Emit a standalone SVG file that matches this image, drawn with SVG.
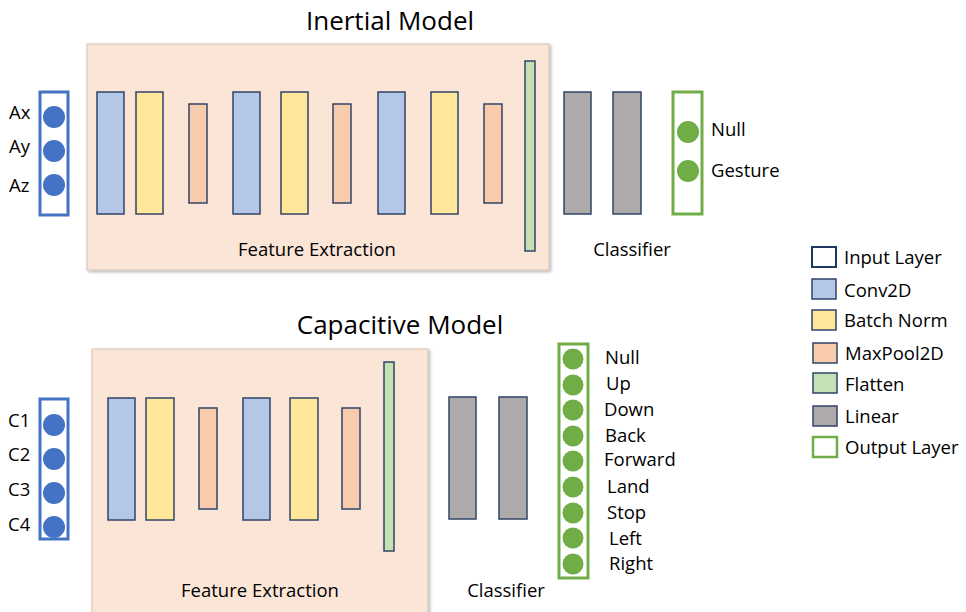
<svg xmlns="http://www.w3.org/2000/svg" width="966" height="612" viewBox="0 0 966 612">
<defs>
<filter id="sh" x="-5%" y="-5%" width="110%" height="110%"><feDropShadow dx="1.5" dy="1.5" stdDeviation="1.5" flood-color="#000" flood-opacity="0.3"/></filter>
<style>
text{font-family:"Open Sans","Noto Sans",sans-serif;fill:#000}
.t{font-size:26px}
.l{font-size:18.5px}
.fe{fill:#FBE5D6;stroke:#D6C4B8;stroke-width:1}
.cv{fill:#B4C7E7;stroke:#2F4468;stroke-width:1.5}
.bn{fill:#FFE699;stroke:#2F4468;stroke-width:1.5}
.mp{fill:#F8CBAD;stroke:#2F4468;stroke-width:1.5}
.fl{fill:#C5E0B4;stroke:#2F4468;stroke-width:1.5}
.ln{fill:#AEAAAA;stroke:#2F4468;stroke-width:1.5}
.in{fill:#fff;stroke:#4472C4;stroke-width:3}
.out{fill:#fff;stroke:#70AD47;stroke-width:3}
.bc{fill:#4472C4}
.gc{fill:#70AD47}
.lgin{fill:#fff;stroke:#1F3864;stroke-width:2}
.lgout{fill:#fff;stroke:#70AD47;stroke-width:2.5}
</style>
</defs>
<g id="connectors"/>

<!-- Inertial Model -->
<text class="t" x="390" y="30" text-anchor="middle">Inertial Model</text>
<g id="inertial-feature">
<rect class="fe" x="87" y="44" width="462" height="226" filter="url(#sh)"/>
<text class="l" x="317" y="256" text-anchor="middle">Feature Extraction</text>
</g>
<g id="inertial-input">
<rect class="in" x="40" y="92" width="28" height="123"/>
<circle class="bc" cx="54" cy="117" r="11"/>
<circle class="bc" cx="54" cy="151" r="11"/>
<circle class="bc" cx="54" cy="185" r="11"/>
<text class="l" x="9" y="119">Ax</text>
<text class="l" x="9" y="153">Ay</text>
<text class="l" x="9" y="192">Az</text>
</g>
<g id="inertial-layers">
<rect class="cv" x="97" y="92" width="27" height="122"/>
<rect class="bn" x="136" y="92" width="27" height="122"/>
<rect class="mp" x="189" y="104" width="18" height="99"/>
<rect class="cv" x="233" y="92" width="27" height="122"/>
<rect class="bn" x="281" y="92" width="27" height="122"/>
<rect class="mp" x="333" y="104" width="18" height="99"/>
<rect class="cv" x="378" y="92" width="27" height="122"/>
<rect class="bn" x="431" y="92" width="27" height="122"/>
<rect class="mp" x="484" y="104" width="18" height="99"/>
<rect class="fl" x="525" y="61" width="10" height="190"/>
</g>
<g id="inertial-classifier">
<rect class="ln" x="564" y="92" width="27" height="122"/>
<rect class="ln" x="613" y="92" width="28" height="122"/>
<text class="l" x="632" y="256" text-anchor="middle">Classifier</text>
</g>
<g id="inertial-output">
<rect class="out" x="673" y="92" width="29" height="122"/>
<circle class="gc" cx="688" cy="132" r="11"/>
<circle class="gc" cx="688" cy="171" r="11"/>
<text class="l" x="711" y="136">Null</text>
<text class="l" x="711" y="177">Gesture</text>
</g>

<!-- Capacitive Model -->
<text class="t" x="400" y="334" text-anchor="middle">Capacitive Model</text>
<g id="capacitive-feature">
<rect class="fe" x="92" y="349" width="336" height="270" filter="url(#sh)"/>
<text class="l" x="260" y="597" text-anchor="middle">Feature Extraction</text>
</g>
<g id="capacitive-input">
<rect class="in" x="40" y="399" width="28" height="140"/>
<circle class="bc" cx="54" cy="425" r="11"/>
<circle class="bc" cx="54" cy="459" r="11"/>
<circle class="bc" cx="54" cy="493" r="11"/>
<circle class="bc" cx="54" cy="527" r="11"/>
<text class="l" x="8" y="427">C1</text>
<text class="l" x="8" y="461">C2</text>
<text class="l" x="8" y="496">C3</text>
<text class="l" x="8" y="531">C4</text>
</g>
<g id="capacitive-layers">
<rect class="cv" x="108" y="398" width="27" height="122"/>
<rect class="bn" x="146" y="398" width="28" height="122"/>
<rect class="mp" x="199" y="408" width="18" height="101"/>
<rect class="cv" x="243" y="398" width="27" height="122"/>
<rect class="bn" x="290" y="398" width="28" height="122"/>
<rect class="mp" x="342" y="408" width="18" height="101"/>
<rect class="fl" x="384" y="362" width="10" height="189"/>
</g>
<g id="capacitive-classifier">
<rect class="ln" x="449" y="397" width="27" height="122"/>
<rect class="ln" x="499" y="397" width="28" height="122"/>
<text class="l" x="506" y="597" text-anchor="middle">Classifier</text>
</g>
<g id="capacitive-output">
<rect class="out" x="559" y="344" width="29" height="234"/>
<circle class="gc" cx="573" cy="359" r="10.5"/>
<circle class="gc" cx="573" cy="385" r="10.5"/>
<circle class="gc" cx="573" cy="410" r="10.5"/>
<circle class="gc" cx="573" cy="436" r="10.5"/>
<circle class="gc" cx="573" cy="461" r="10.5"/>
<circle class="gc" cx="573" cy="487" r="10.5"/>
<circle class="gc" cx="573" cy="513" r="10.5"/>
<circle class="gc" cx="573" cy="538" r="10.5"/>
<circle class="gc" cx="573" cy="564" r="10.5"/>
<text class="l" x="605" y="364">Null</text>
<text class="l" x="606" y="390">Up</text>
<text class="l" x="604" y="416">Down</text>
<text class="l" x="605" y="442">Back</text>
<text class="l" x="604" y="466">Forward</text>
<text class="l" x="607" y="493">Land</text>
<text class="l" x="607" y="519">Stop</text>
<text class="l" x="609" y="545">Left</text>
<text class="l" x="609" y="570">Right</text>
</g>

<!-- Legend -->
<g id="legend">
<rect class="lgin" x="812" y="247" width="24" height="20"/>
<text class="l" x="844" y="264">Input Layer</text>
<rect class="cv" x="812" y="279" width="24" height="20"/>
<text class="l" x="844" y="297">Conv2D</text>
<rect class="bn" x="812" y="310" width="24" height="20"/>
<text class="l" x="844" y="327">Batch Norm</text>
<rect class="mp" x="813" y="343" width="24" height="20"/>
<text class="l" x="845" y="360">MaxPool2D</text>
<rect class="fl" x="813" y="373" width="24" height="20"/>
<text class="l" x="845" y="391">Flatten</text>
<rect class="ln" x="813" y="406" width="24" height="20"/>
<text class="l" x="845" y="423">Linear</text>
<rect class="lgout" x="813" y="437" width="24" height="20"/>
<text class="l" x="845" y="454">Output Layer</text>
</g>
</svg>
